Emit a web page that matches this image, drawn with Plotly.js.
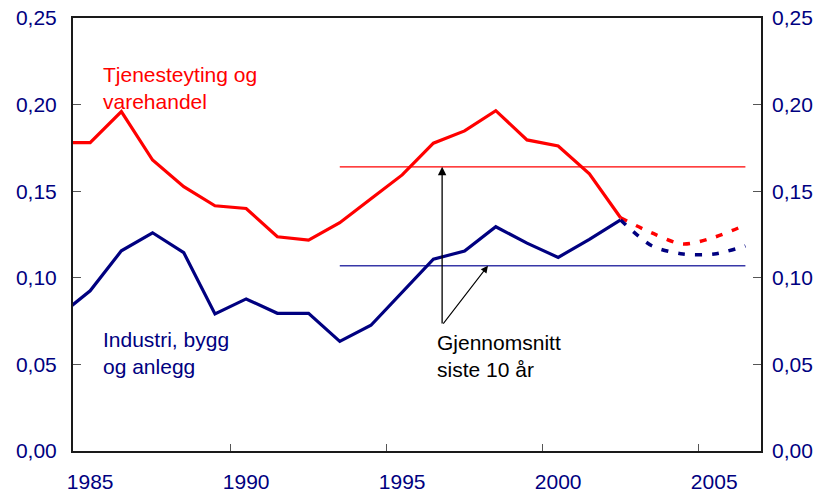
<!DOCTYPE html>
<html>
<head>
<meta charset="utf-8">
<script src="https://cdn.plot.ly/plotly-3.0.1.min.js"></script>
<style>html,body{margin:0;padding:0;background:#fff;}#chart{width:829px;height:496px;}</style>
</head>
<body>
<div id="chart"></div>
<script>
// Historical data
const years = [1984,1985,1986,1987,1988,1989,1990,1991,1992,1993,1994,1995,1996,1997,1998,1999,2000,2001,2002];
const tjenesteyting = [0.178,0.178,0.196,0.168,0.1526,0.1416,0.140,0.1237,0.1218,0.1318,0.1457,0.1594,0.1777,0.1848,0.1965,0.1796,0.1761,0.160,0.1347];
const industri = [0.078,0.0925,0.1156,0.126,0.1145,0.0791,0.0878,0.0795,0.0795,0.0633,0.0726,0.0916,0.1107,0.1155,0.1295,0.120,0.1118,0.1222,0.1334];
// Projections
const projYears = [2002,2003,2004,2005,2006];
const tjenesteytingProj = [0.1347,0.1259,0.1195,0.1234,0.1305];
const industriProj = [0.1334,0.1185,0.1137,0.1137,0.1184];
// Ten-year averages
const avgYears = [1993,2006];
const tjenesteytingAvg = [0.1641,0.1641];
const industriAvg = [0.107,0.107];
// Axis labels
const yearTicks = [1985,1990,1995,2000,2005];
const yearTickText = ["1985","1990","1995","2000","2005"];
const boundaryTicks = [1989.5,1994.5,1999.5,2004.5];
const yTicks = [0,0.05,0.10,0.15,0.20,0.25];

const RED = "#FF0000", NAVY = "#000080", FONT = "Liberation Sans, Arial, sans-serif";

const traces = [
  {x: avgYears, y: tjenesteytingAvg, mode: "lines", line: {color: RED, width: 1.2}, hoverinfo: "skip"},
  {x: avgYears, y: industriAvg, mode: "lines", line: {color: "#3838A8", width: 1.4}, hoverinfo: "skip"},
  {x: years, y: tjenesteyting, mode: "lines", line: {color: RED, width: 3.2}},
  {x: years, y: industri, mode: "lines", line: {color: NAVY, width: 3.2}},
  {x: projYears, y: tjenesteytingProj, mode: "lines", line: {color: RED, width: 3.5, dash: "7px,10px", shape: "spline", smoothing: 0.8}},
  {x: projYears, y: industriProj, mode: "lines", line: {color: NAVY, width: 3.5, dash: "7px,10px", shape: "spline", smoothing: 0.8}},
  {x: [1990], y: [0.5], xaxis: "x2", yaxis: "y2", mode: "markers", marker: {opacity: 0}, hoverinfo: "skip"}
];

const xr = [1984.45, 2006.5], yr = [0, 0.25];
const layout = {
  width: 829, height: 496,
  margin: {l: 73, r: 68, t: 18, b: 45},
  showlegend: false,
  paper_bgcolor: "#fff", plot_bgcolor: "#fff",
  separators: ", ",
  font: {family: FONT, size: 21, color: NAVY},
  xaxis: {range: xr, tickvals: yearTicks, ticktext: yearTickText, ticks: "", showgrid: false, zeroline: false,
          showline: true, mirror: true, linecolor: "#1a1a1a", linewidth: 2, ticklabelstandoff: 11,
          tickfont: {family: FONT, size: 21, color: NAVY}},
  xaxis2: {range: xr, overlaying: "x", anchor: "y", tickvals: boundaryTicks, ticks: "inside", ticklen: 7, tickcolor: "#555",
           tickwidth: 1, showticklabels: false, showgrid: false, zeroline: false, showline: false},
  yaxis: {range: yr, tickvals: yTicks, tickformat: ".2f", ticks: "inside", ticklen: 8, tickcolor: "#555", tickwidth: 1,
          showgrid: false, zeroline: false, showline: true, mirror: true, linecolor: "#1a1a1a", linewidth: 2,
          ticklabelstandoff: 10, tickfont: {family: FONT, size: 21, color: NAVY}},
  yaxis2: {range: yr, overlaying: "y", side: "right", anchor: "x", tickvals: yTicks, tickformat: ".2f", ticks: "inside",
           ticklen: 8, tickcolor: "#555", tickwidth: 1, showgrid: false, zeroline: false, showline: false,
           ticklabelstandoff: 10, tickfont: {family: FONT, size: 21, color: NAVY}},
  annotations: [
    {x: 1985.36, y: 0.2096, xref: "x", yref: "y", text: "Tjenesteyting og<br>varehandel", showarrow: false,
     xanchor: "left", yanchor: "middle", align: "left", font: {family: FONT, size: 21, color: RED}},
    {x: 1985.36, y: 0.0566, xref: "x", yref: "y", text: "Industri, bygg<br>og anlegg", showarrow: false,
     xanchor: "left", yanchor: "middle", align: "left", font: {family: FONT, size: 21, color: NAVY}},
    {x: 1996.04, y: 0.0548, xref: "x", yref: "y", text: "Gjennomsnitt<br>siste 10 år", showarrow: false,
     xanchor: "left", yanchor: "middle", align: "left", font: {family: FONT, size: 21, color: "#000"}},
    {x: 1996.28, y: 0.1641, ax: 1996.28, ay: 0.0727, xref: "x", yref: "y", axref: "x", ayref: "y", text: "",
     showarrow: true, arrowhead: 2, arrowsize: 1.3, arrowwidth: 1.3, arrowcolor: "#000", standoff: 0},
    {x: 1997.75, y: 0.107, ax: 1996.28, ay: 0.0727, xref: "x", yref: "y", axref: "x", ayref: "y", text: "",
     showarrow: true, arrowhead: 2, arrowsize: 1.3, arrowwidth: 1.1, arrowcolor: "#000", standoff: 0}
  ]
};

Plotly.newPlot("chart", traces, layout, {displayModeBar: false, staticPlot: true});
</script>
</body>
</html>
